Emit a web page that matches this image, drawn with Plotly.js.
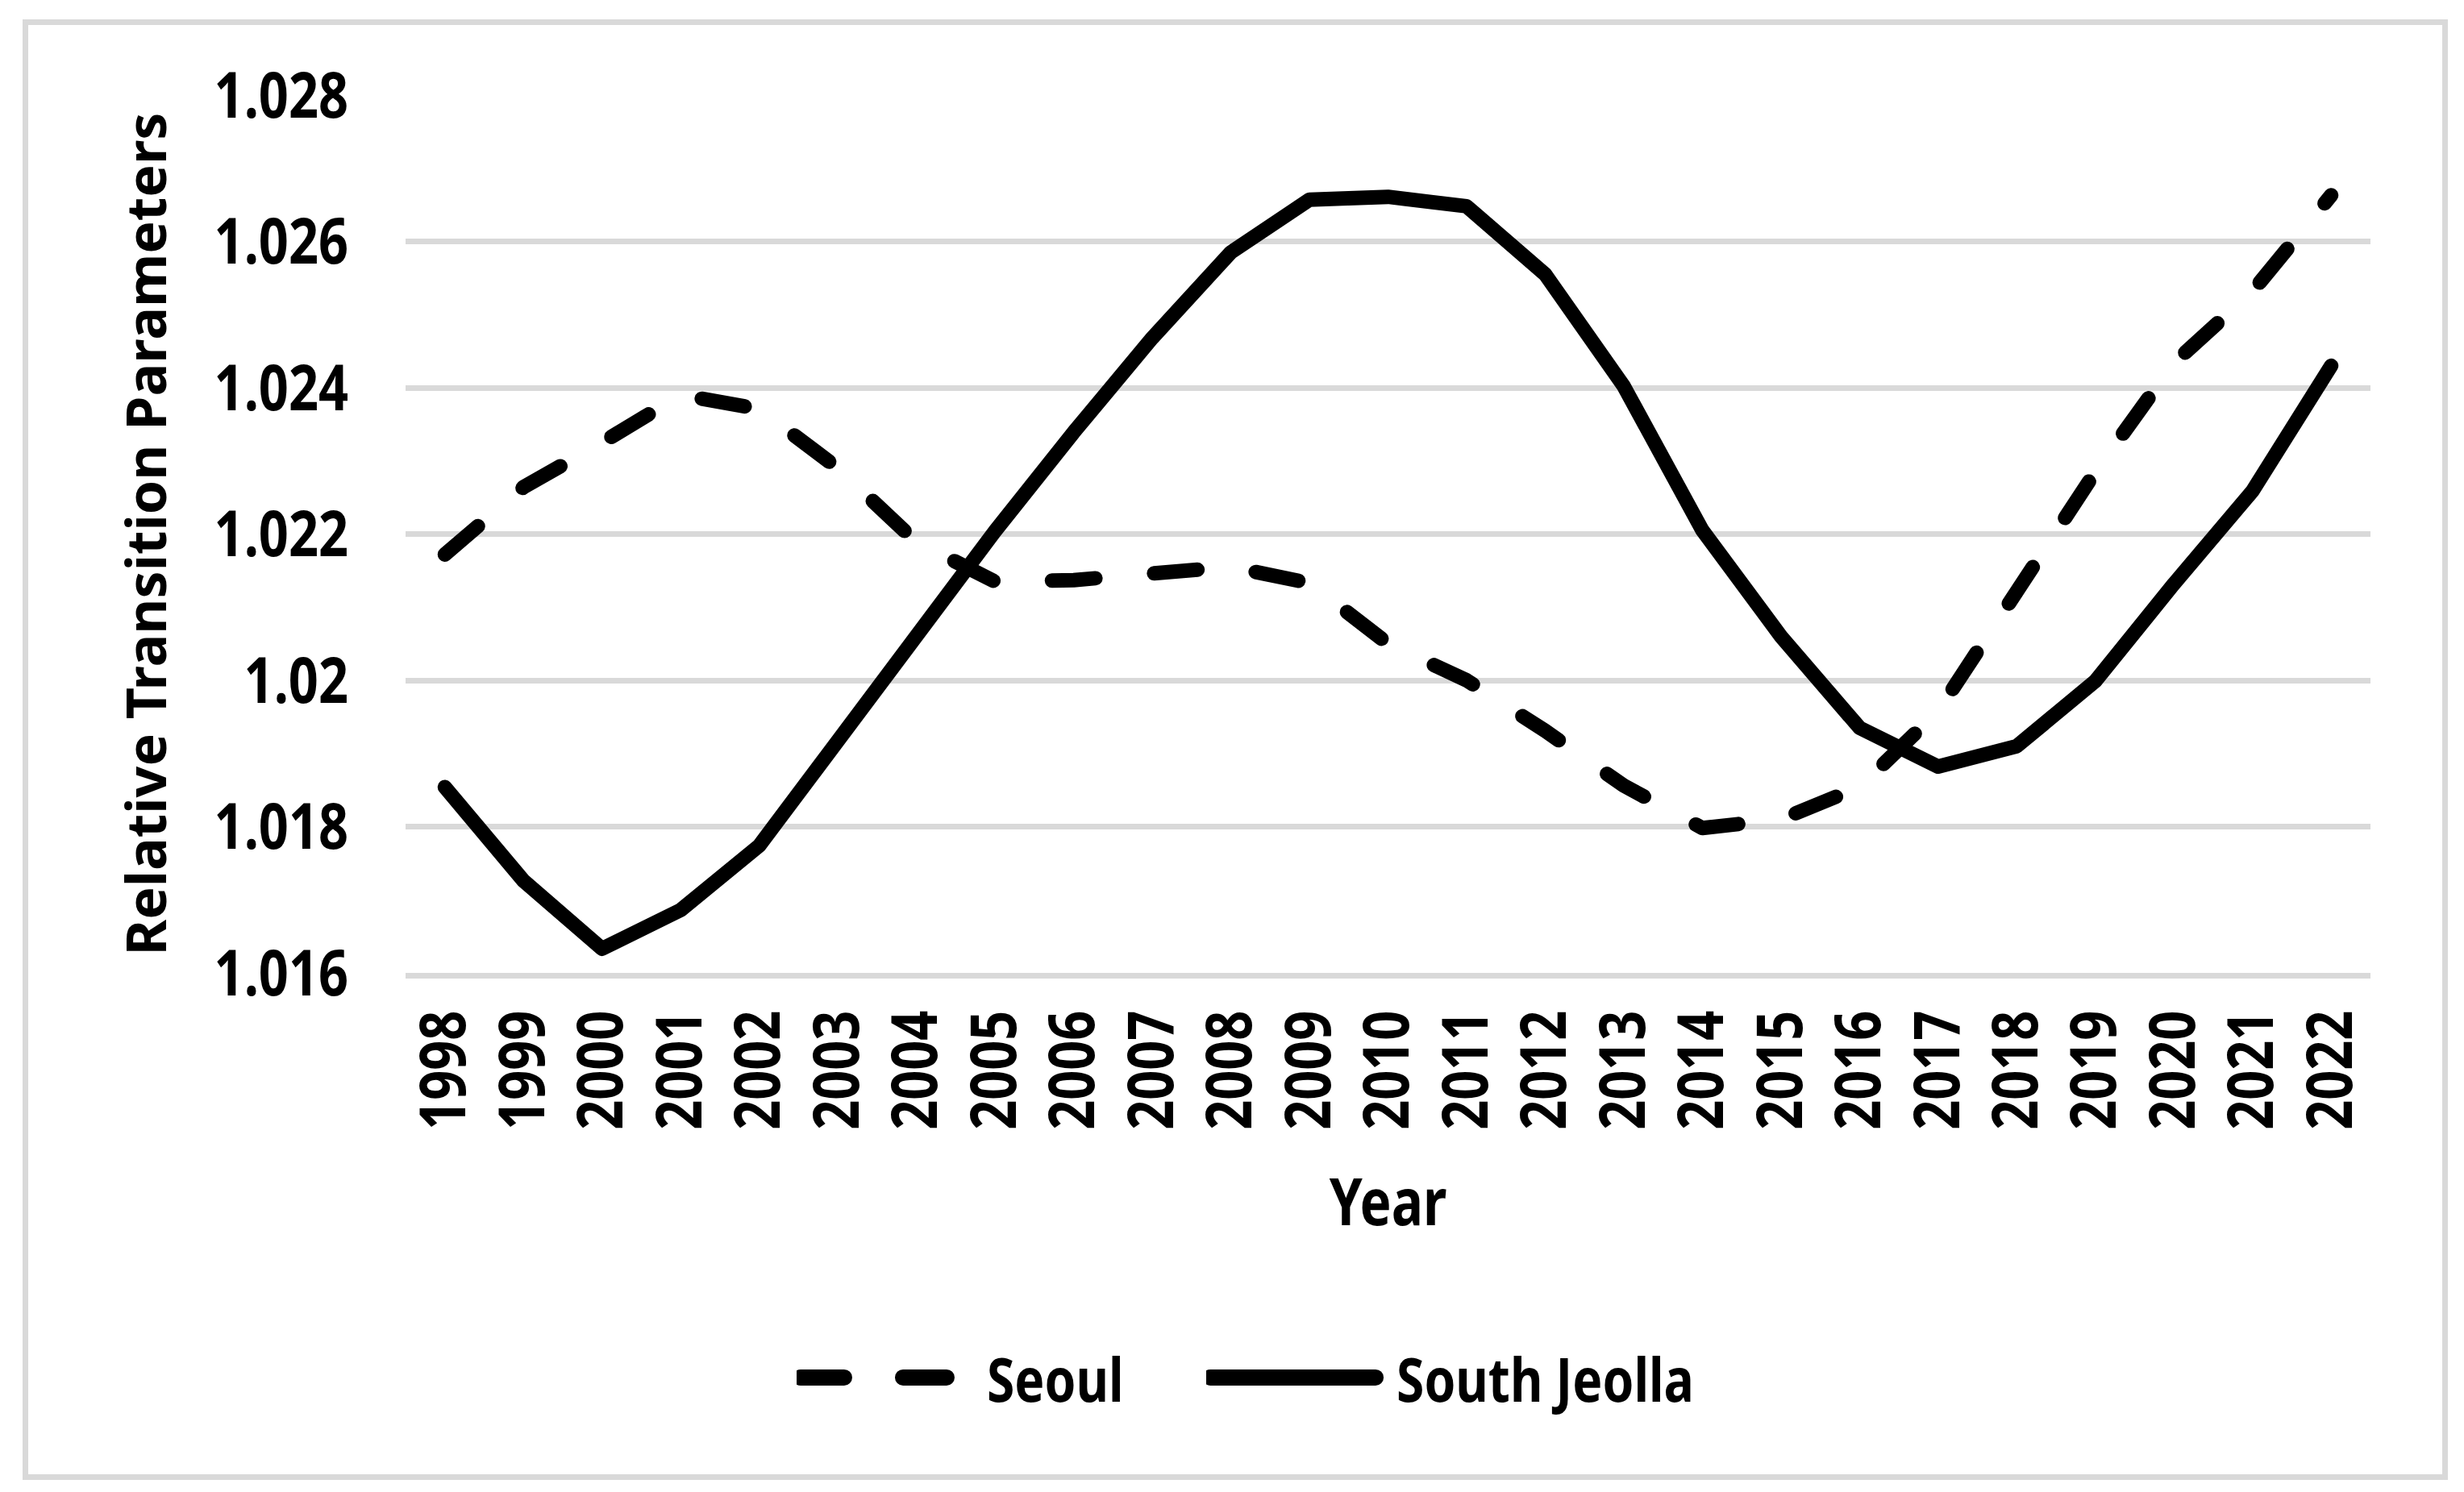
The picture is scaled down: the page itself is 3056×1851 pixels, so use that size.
<!DOCTYPE html>
<html>
<head>
<meta charset="utf-8">
<script src="https://cdn.plot.ly/plotly-3.0.1.min.js"></script>
<style>
  html, body { margin: 0; padding: 0; background: #ffffff; }
  #frame {
    position: absolute; left: 28px; top: 24px; width: 3008px; height: 1812px;
    border: 7px solid #d9d9d9; box-sizing: border-box;
  }
  #chart { position: absolute; left: 0; top: 0; width: 3056px; height: 1851px; }
  .js-line { stroke-linecap: round; stroke-linejoin: round; }
</style>
</head>
<body>
<div id="frame"></div>
<div id="chart"></div>
<script>
// Years on the category axis
const years = ['1998','1999','2000','2001','2002','2003','2004','2005','2006','2007','2008','2009',
               '2010','2011','2012','2013','2014','2015','2016','2017','2018','2019','2020','2021','2022'];

// Relative transition parameters by region
const seoul = [1.02172, 1.02264, 1.02325, 1.02390, 1.02371, 1.02290, 1.02189, 1.02135, 1.02137,
               1.02146, 1.02155, 1.02133, 1.02050, 1.02000, 1.01931, 1.01856, 1.01798, 1.01810,
               1.01854, 1.01958, 1.02118, 1.02285, 1.02434, 1.02532, 1.02663];
const southJeolla = [1.01854, 1.01726, 1.01633, 1.01686, 1.01774, 1.01920, 1.02062, 1.02204, 1.02339,
                     1.02468, 1.02585, 1.02657, 1.02661, 1.02648, 1.02555, 1.02402, 1.02205, 1.02060,
                     1.01935, 1.01882, 1.01910, 1.01999, 1.02132, 1.02259, 1.02430];

// Value-axis ticks
const yTickVals = [1.016, 1.018, 1.020, 1.022, 1.024, 1.026, 1.028];
const yTickText = ['1.016', '1.018', '1.02', '1.022', '1.024', '1.026', '1.028'];

const FONT = '"Noto Sans", "Liberation Sans", sans-serif';
const GRID = '#d9d9d9';
const TEXT_SQUEEZE = 0.82;   // horizontal condensing of tick and legend labels

const data = [
  {
    type: 'scatter', mode: 'lines', name: 'Seoul', legend: 'legend',
    x: years, y: seoul,
    line: { color: '#000000', width: 18, dash: '54px,73px' }
  },
  {
    type: 'scatter', mode: 'lines', name: 'South Jeolla', legend: 'legend2',
    x: years, y: southJeolla,
    line: { color: '#000000', width: 18 }
  }
];

const legendStyle = {
  orientation: 'h', xanchor: 'left', y: -0.461, yanchor: 'middle',
  font: { family: FONT, size: 76, weight: 700, color: '#000000' },
  itemwidth: 226, bgcolor: 'rgba(0,0,0,0)', borderwidth: 0
};

const layout = {
  width: 3056, height: 1851,
  margin: { l: 503, r: 116, t: 118, b: 644, pad: 0 },
  paper_bgcolor: 'rgba(0,0,0,0)',
  plot_bgcolor: 'rgba(0,0,0,0)',
  font: { family: FONT, color: '#000000', size: 79, weight: 700 },
  showlegend: true,
  legend: Object.assign({ x: 0.1990 }, legendStyle),
  legend2: Object.assign({ x: 0.4075 }, legendStyle),
  xaxis: {
    type: 'category', range: [-0.5, 24.5],
    showgrid: false, zeroline: false,
    showline: true, linecolor: GRID, linewidth: 7,
    ticks: '', tickangle: -90, ticklabelstandoff: 8,
    tickfont: { family: FONT, size: 79, weight: 700, color: '#000000' },
    title: { text: 'Year', font: { family: FONT, size: 80, weight: 700, color: '#000000' }, standoff: 4 }
  },
  yaxis: {
    range: [1.016, 1.028],
    tickvals: yTickVals, ticktext: yTickText,
    showgrid: true, gridcolor: GRID, gridwidth: 7,
    zeroline: false, showline: false, ticks: '',
    ticklabelstandoff: 70,
    tickfont: { family: FONT, size: 79, weight: 700, color: '#000000' },
    title: { text: 'Relative Transition Parameters', font: { family: FONT, size: 68, weight: 700, color: '#000000' }, standoff: 0 }
  }
};

const gd = document.getElementById('chart');
Plotly.newPlot(gd, data, layout, { staticPlot: true, displayModeBar: false }).then(function () {
  // longer legend line samples
  gd.querySelectorAll('g.legend path.js-line, g.legend2 path.js-line').forEach(function (p) {
    p.setAttribute('d', 'M5,0h205');
    p.style.strokeWidth = '20px';
  });
  // condensed lettering for every label except the vertical axis title
  gd.querySelectorAll('svg text').forEach(function (t) {
    if (t.closest('.g-ytitle')) return;
    const len = t.getComputedTextLength();
    if (len > 0) {
      t.setAttribute('textLength', (len * TEXT_SQUEEZE).toFixed(1));
      t.setAttribute('lengthAdjust', 'spacingAndGlyphs');
    }
  });
});
</script>
</body>
</html>
